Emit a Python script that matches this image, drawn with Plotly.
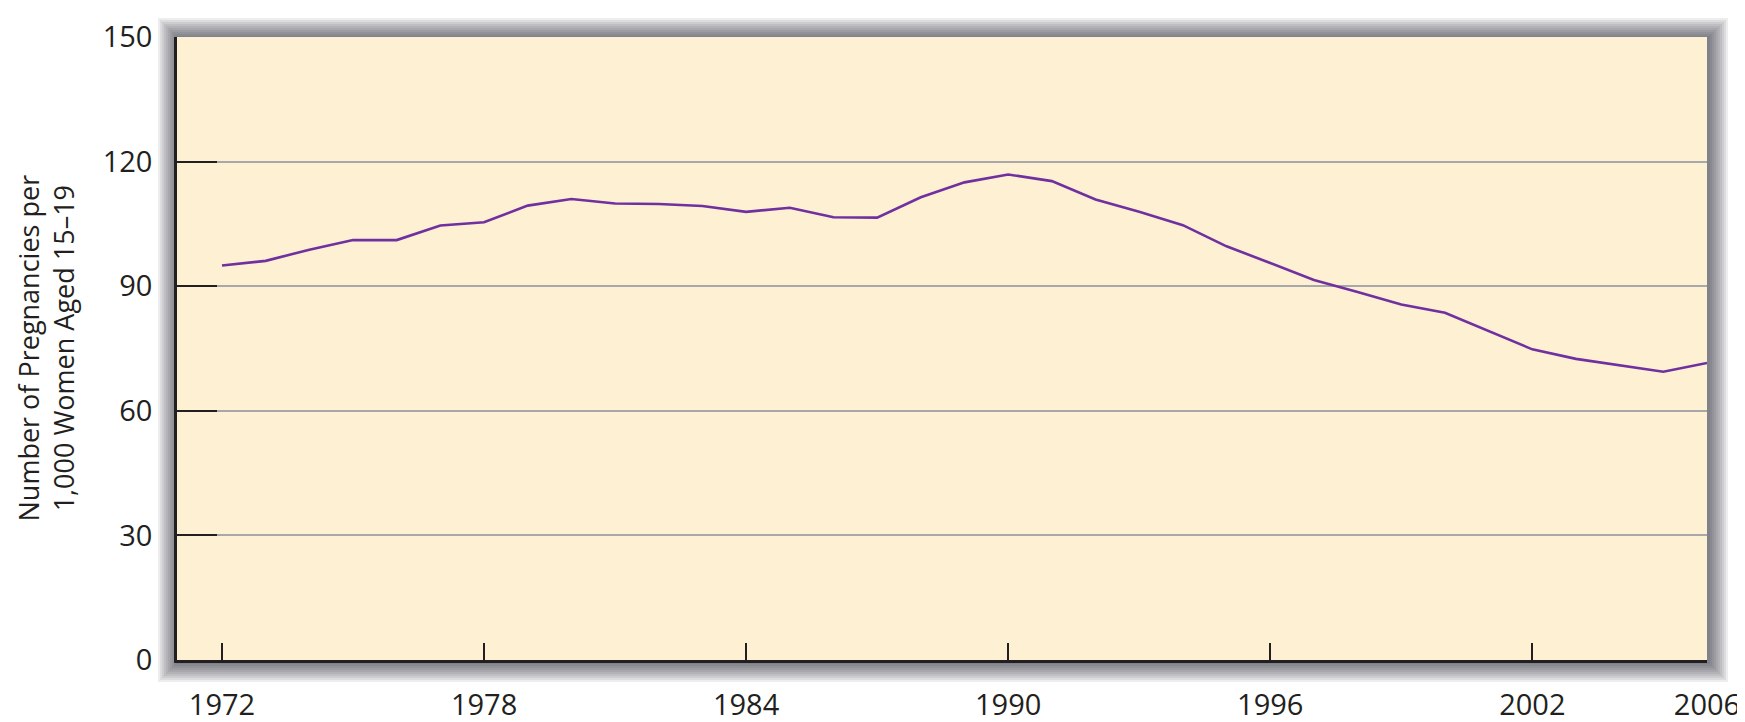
import plotly.graph_objects as go

# teen pregnancy rate per 1,000 women aged 15-19
years = list(range(1972, 2007))
rates = [95.0, 96.1, 98.8, 101.1, 101.1, 104.6, 105.4, 109.4, 111.0, 109.9,
         109.8, 109.3, 107.9, 108.9, 106.6, 106.5, 111.4, 115.0, 116.9, 115.3,
         110.9, 107.9, 104.7, 99.6, 95.6, 91.5, 88.6, 85.6, 83.6, 79.2,
         74.8, 72.5, 70.9, 69.4, 71.5]
x_ticks = [1972, 1978, 1984, 1990, 1996, 2002, 2006]
y_ticks = [0, 30, 60, 90, 120, 150]

# page body adds an 8px margin, so the figure is shifted by that
W, H = 1737, 714
L, T = 169, 29
pw, ph = 1530, 623
R, B = W - L - pw, H - T - ph

font = "Open Sans"
ink = "#231F20"

fig = go.Figure()
fig.add_trace(go.Scatter(x=years, y=rates, mode="lines",
                         line=dict(color="#7030A0", width=2.6),
                         hoverinfo="skip", showlegend=False))

# soft drop shadow round the plot area, then the peach panel on top
shapes = []
for i in range(10, 0, -1):
    dx = i * 2.0 / pw
    dy = i * 2.0 / ph
    shapes.append(dict(type="rect", xref="paper", yref="paper",
                       x0=-dx + 1.0 / pw, x1=1 + dx + 1.0 / pw,
                       y0=-dy - 2.0 / ph, y1=1 + dy - 1.0 / ph,
                       line=dict(width=0), fillcolor="rgba(60,60,70,0.09)",
                       layer="below"))
shapes.append(dict(type="rect", xref="paper", yref="paper", x0=0, x1=1, y0=0, y1=1,
                   line=dict(width=0), fillcolor="#FEF0D2", layer="below"))

fig.update_layout(
    width=W, height=H,
    margin=dict(l=L, r=R, t=T, b=B, autoexpand=False),
    paper_bgcolor="white",
    plot_bgcolor="rgba(0,0,0,0)",
    shapes=shapes,
    font=dict(family=font, size=29, color=ink),
    xaxis=dict(range=[1970.97, 2006], tickvals=x_ticks, ticks="inside", ticklen=17,
               tickwidth=2, tickcolor=ink, showline=True, linecolor=ink, linewidth=2.5,
               showgrid=False, zeroline=False, ticklabelstandoff=17,
               automargin=False, ticklabeloverflow="allow",
               tickfont=dict(family=font, size=29, color=ink)),
    yaxis=dict(range=[0, 150], tickvals=y_ticks, ticks="inside", ticklen=40,
               tickwidth=2, tickcolor=ink, showline=True, linecolor=ink, linewidth=2.5,
               showgrid=True, gridcolor="#A8A8AA", gridwidth=2, zeroline=False,
               ticklabelstandoff=16, automargin=False,
               tickfont=dict(family=font, size=29, color=ink)),
    annotations=[dict(text="Number of Pregnancies per<br>1,000 Women Aged 15\u201319",
                      xref="paper", yref="paper", x=(37 - L) / pw, y=0.5,
                      xanchor="center", yanchor="middle", textangle=-90,
                      showarrow=False, align="center",
                      font=dict(family=font, size=27, color=ink))],
)

fig.write_html("out.html")
